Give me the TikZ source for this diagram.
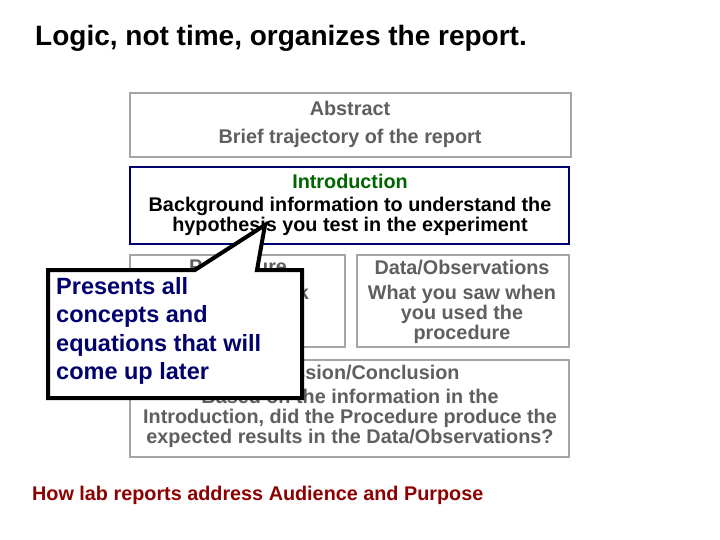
\documentclass[tikz,border=0pt]{standalone}
\usepackage{fontspec}
\setmainfont{Liberation Sans}
\definecolor{navy}{RGB}{0,0,110}
\definecolor{gtext}{RGB}{95,95,95}
\definecolor{gline}{RGB}{165,165,165}
\definecolor{dgreen}{RGB}{0,100,0}
\definecolor{dred}{RGB}{140,0,0}
\begin{document}
\begin{tikzpicture}[x=1pt,y=-1pt,
  gbox/.style={draw=gline,line width=2.5pt,fill=white},
  txt/.style={font=\bfseries\fontsize{19.8}{20}\selectfont,align=center,inner sep=0pt}]
\useasboundingbox[fill=white] (0,0) rectangle (720,540);
\node[anchor=west,font=\bfseries\fontsize{28}{30}\selectfont,inner sep=0pt] (title) at (35,38) {Logic, not time, organizes the report.};
\draw[gbox] (130,93) rectangle (571,157);
\node[txt,text=gtext] (abs1) at (350,108) {Abstract};
\node[txt,text=gtext] (abs2) at (350,138) {Brief trajectory of the report};
\draw[draw=navy,line width=2.5pt,fill=white] (130,167) rectangle (569,244);
\node[txt,text=dgreen] (in1) at (350,181) {Introduction};
\node[txt] (in2) at (350,216) {Background information to understand the\\hypothesis you test in the experiment};
\draw[gbox] (130,255) rectangle (345,347);
\node[txt,text=gtext] (pr) at (238,281) {Procedure\\[6pt]Steps you took};
\draw[gbox] (357,255) rectangle (569,347);
\node[txt,text=gtext] (da1) at (462,268) {Data/Observations};
\node[txt,text=gtext] (da2) at (462,314) {What you saw when\\you used the\\procedure};
\draw[gbox] (130,360) rectangle (569,457);
\node[txt,text=gtext] (di1) at (350,373) {Discussion/Conclusion};
\node[txt,text=gtext] (di2) at (350,418) {Based on the information in the\\Introduction, did the Procedure produce the\\expected results in the Data/Observations?};
\draw[line width=4pt,fill=white,line join=miter]
  (48,270) -- (195,270) -- (265,225) -- (257,270) -- (302,270) -- (302,398) -- (48,398) -- cycle;
\node[anchor=north west,align=left,text=navy,font=\bfseries\fontsize{23.5}{28.5}\selectfont,inner sep=0pt] (call) at (56,277) {Presents all\\concepts and\\equations that will\\come up later};
\node[anchor=west,text=dred,font=\bfseries\fontsize{19.8}{22}\selectfont,inner sep=0pt] (foot) at (32,495) {How lab reports address Audience and Purpose};
\end{tikzpicture}
\end{document}
